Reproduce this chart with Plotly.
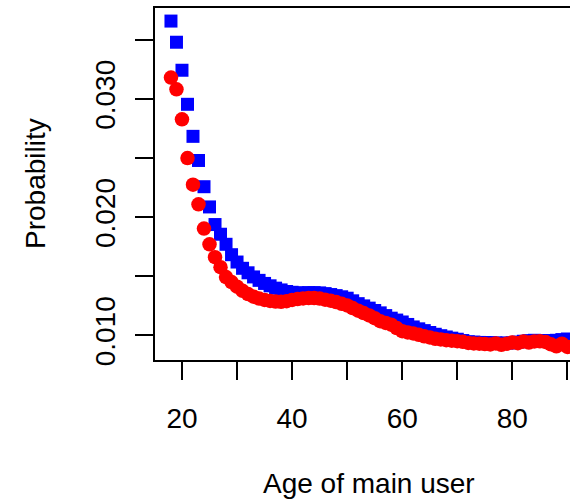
import plotly.graph_objects as go

ages = list(range(18, 91))

blue_prob = [
    0.03659, 0.03480, 0.03243, 0.02955, 0.02684, 0.02480, 0.02258, 0.02087,  # 18-25
    0.01938, 0.01856, 0.01771, 0.01683, 0.01621, 0.01568, 0.01530, 0.01495,  # 26-33
    0.01466, 0.01440, 0.01420, 0.01400, 0.01385, 0.01372, 0.01365, 0.01360,  # 34-41
    0.01360, 0.01362, 0.01362, 0.01360, 0.01354, 0.01346, 0.01337, 0.01327,  # 42-49
    0.01315, 0.01293, 0.01269, 0.01250, 0.01231, 0.01211, 0.01191, 0.01168,  # 50-57
    0.01146, 0.01130, 0.01114, 0.01093, 0.01072, 0.01056, 0.01041, 0.01025,  # 58-65
    0.01010, 0.00998, 0.00987, 0.00977, 0.00968, 0.00957, 0.00947, 0.00944,  # 66-73
    0.00941, 0.00940, 0.00939, 0.00937, 0.00934, 0.00936, 0.00937, 0.00944,  # 74-81
    0.00951, 0.00956, 0.00959, 0.00957, 0.00955, 0.00957, 0.00959, 0.00965,  # 82-89
    0.00970,                                                                  # 90
]

red_prob = [
    0.03181, 0.03082, 0.02828, 0.02500, 0.02275, 0.02109, 0.01904, 0.01771,  # 18-25
    0.01662, 0.01577, 0.01494, 0.01452, 0.01412, 0.01378, 0.01350, 0.01328,  # 26-33
    0.01312, 0.01300, 0.01292, 0.01287, 0.01285, 0.01290, 0.01300, 0.01308,  # 34-41
    0.01313, 0.01316, 0.01316, 0.01312, 0.01303, 0.01294, 0.01282, 0.01268,  # 42-49
    0.01254, 0.01232, 0.01209, 0.01189, 0.01169, 0.01146, 0.01121, 0.01106,  # 50-57
    0.01091, 0.01062, 0.01036, 0.01026, 0.01017, 0.01005, 0.00993, 0.00983,  # 58-65
    0.00972, 0.00966, 0.00960, 0.00956, 0.00952, 0.00946, 0.00937, 0.00933,  # 66-73
    0.00930, 0.00927, 0.00924, 0.00932, 0.00921, 0.00930, 0.00941, 0.00935,  # 74-81
    0.00949, 0.00940, 0.00949, 0.00950, 0.00945, 0.00925, 0.00908, 0.00930,  # 82-89
    0.00903,                                                                  # 90
]

x_tickvals = [20, 30, 40, 50, 60, 70, 80, 90]
x_ticktext = ["20", "", "40", "", "60", "", "80", ""]
y_tickvals = [0.010, 0.015, 0.020, 0.025, 0.030, 0.035]
y_ticktext = ["0.010", "", "0.020", "", "0.030", ""]

FONT = "Liberation Sans, Arial, Helvetica, sans-serif"
FS = 28

fig = go.Figure()
fig.add_trace(go.Scatter(
    x=ages, y=blue_prob, mode="markers",
    marker=dict(symbol="square", size=13, color="#0000FF", line=dict(width=0)),
    showlegend=False, hoverinfo="skip",
))
fig.add_trace(go.Scatter(
    x=ages, y=red_prob, mode="markers",
    marker=dict(symbol="circle", size=14.5, color="#FF0000", line=dict(width=0)),
    showlegend=False, hoverinfo="skip",
))

fig.update_layout(
    width=570, height=502,
    margin=dict(l=155, r=0, t=8, b=142),
    paper_bgcolor="white", plot_bgcolor="white",
    font=dict(family=FONT, size=FS, color="black"),
    xaxis=dict(
        range=[15.1, 90.47], showgrid=False, zeroline=False,
        showline=True, linecolor="black", linewidth=1.5, mirror=True,
        ticks="outside", ticklen=18, tickwidth=1.5, tickcolor="black",
        tickvals=x_tickvals, ticktext=x_ticktext, ticklabelstandoff=15,
        tickfont=dict(family=FONT, size=FS, color="black"),
    ),
    yaxis=dict(
        range=[0.007924, 0.037695], showgrid=False, zeroline=False,
        showline=True, linecolor="black", linewidth=1.5,
        ticks="outside", ticklen=18, tickwidth=1.5, tickcolor="black",
        tickvals=y_tickvals, ticktext=y_ticktext, tickangle=-90,
        ticklabelstandoff=9,
        tickfont=dict(family=FONT, size=FS, color="black"),
    ),
    annotations=[
        dict(text="Age of main user", xref="paper", yref="paper",
             x=(369 - 155) / 415, y=-(483 - 359.5) / 351,
             xanchor="center", yanchor="middle", showarrow=False,
             font=dict(family=FONT, size=FS, color="black")),
        dict(text="Probability", xref="paper", yref="paper",
             x=(35 - 155) / 415, y=0.5, textangle=-90,
             xanchor="center", yanchor="middle", showarrow=False,
             font=dict(family=FONT, size=FS, color="black")),
    ],
)

fig.write_html("out.html")
